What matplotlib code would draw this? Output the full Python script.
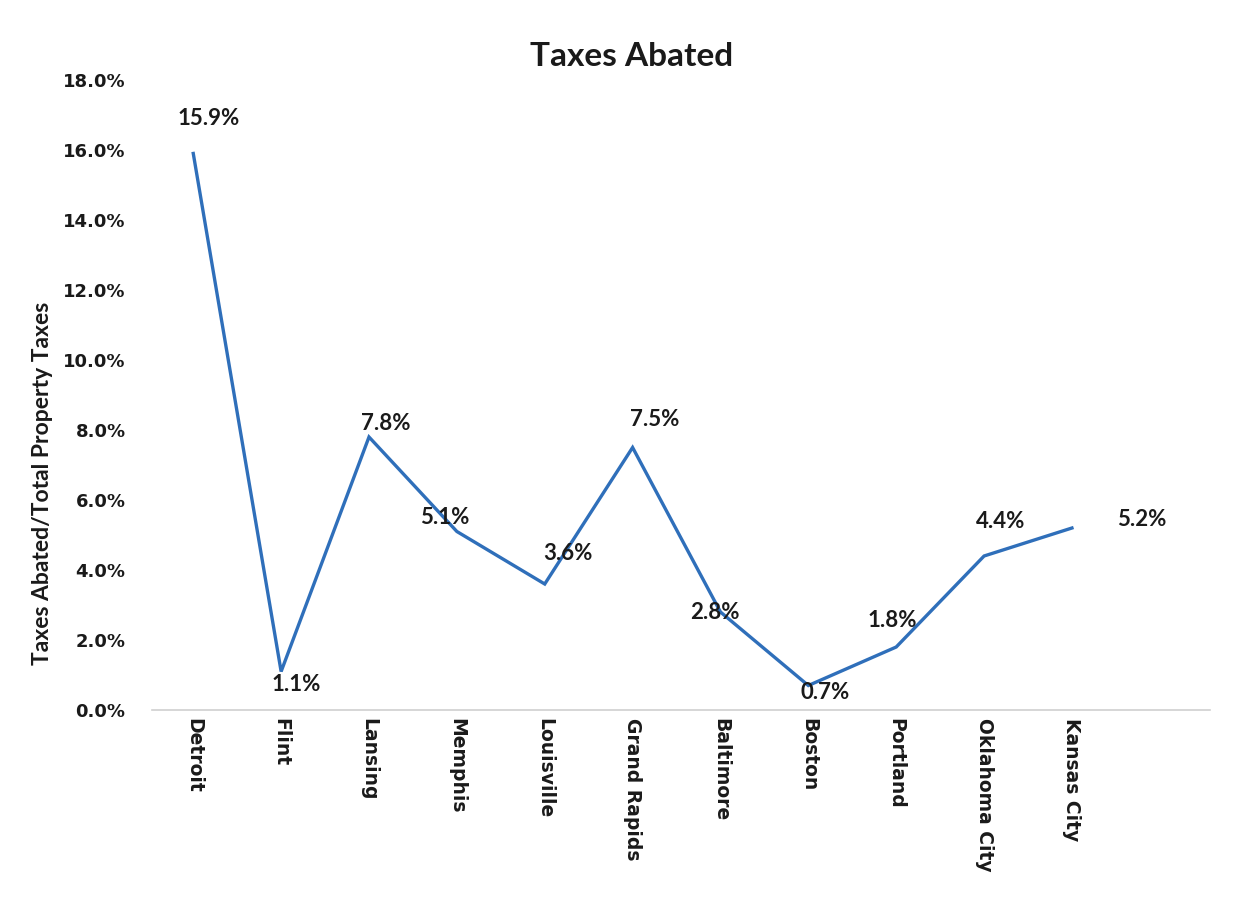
import numpy as np
import matplotlib.pyplot as plt

cities = ["Detroit", "Flint", "Lansing", "Memphis", "Louisville", "Grand Rapids",
          "Baltimore", "Boston", "Portland", "Oklahoma City", "Kansas City"]
abated = [15.9, 1.1, 7.8, 5.1, 3.6, 7.5, 2.8, 0.7, 1.8, 4.4, 5.2]
yticks = [0, 2, 4, 6, 8, 10, 12, 14, 16, 18]

# label offsets (points) relative to each data point
label_off = [(11, 25), (11, -9), (12, 10), (-9, 10), (17, 22), (16, 20),
             (-4, 0), (12, -5), (-3, 19), (12, 25), (50, 6)]

fig = plt.figure(figsize=(12.59, 9.19), dpi=100)
ax = fig.add_axes([0.1207, 0.2274, 0.8403, 0.6856])

x = np.arange(len(cities))
ax.plot(x, abated, color="#2f6fba", lw=2.4, solid_joinstyle="miter")

for xi, v, (dx, dy) in zip(x, abated, label_off):
    ax.annotate(f"{v:.1f}%", (xi, v), xytext=(dx, dy), textcoords="offset points",
                ha="center", va="center", fontsize=16, fontweight="bold",
                family="Lato", color="#1a1a1a")

ax.set_xlim(-0.47, 11.57)
ax.set_ylim(0, 18)
ax.set_yticks(yticks)
ax.set_yticklabels([f"{t:.1f}%" for t in yticks], fontsize=13,
                   fontweight="bold", family="DejaVu Sans", color="#1a1a1a")
ax.set_xticks(x)
ax.set_xticklabels(cities, rotation=-90, fontsize=13.5, fontweight="bold",
                   family="DejaVu Sans", color="#1a1a1a", va="top", ha="center")
ax.tick_params(length=0)
ax.tick_params(axis="y", pad=19)
ax.tick_params(axis="x", pad=6)

for s in ["top", "right", "left"]:
    ax.spines[s].set_visible(False)
ax.spines["bottom"].set_color("#d0d0d0")
ax.spines["bottom"].set_linewidth(1.2)

fig.text(0.502, 0.938, "Taxes Abated", ha="center", va="center",
         fontsize=24, fontweight="bold", family="Lato", color="#1a1a1a")
fig.text(0.034, 1 - 483 / 919, "Taxes Abated/Total Property Taxes", rotation=90,
         ha="center", va="center", fontsize=16.5, fontweight="bold",
         family="Lato", color="#1a1a1a")

fig.savefig("out.png", dpi=100)
